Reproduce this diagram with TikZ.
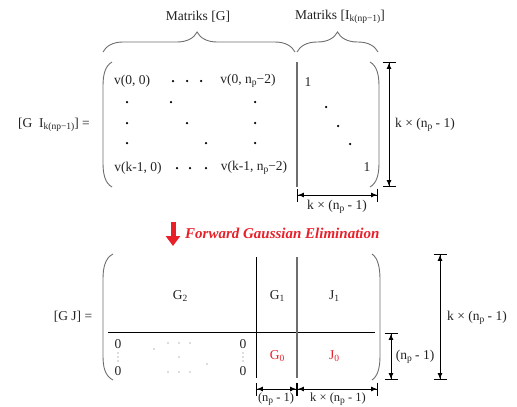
\documentclass[tikz,border=0pt]{standalone}
\usepackage{fontspec}
\setmainfont{Liberation Serif}
\usetikzlibrary{arrows.meta,decorations.pathreplacing}
\newcommand\sbs[1]{\raisebox{-2.5pt}{\fontsize{9.5}{10}\selectfont #1}}
\definecolor{txt}{HTML}{222222}
\definecolor{pgray}{HTML}{6E6E6E}
\definecolor{fred}{HTML}{E8202A}
\begin{document}
\begin{tikzpicture}[x=1pt,y=-1pt,
  every node/.style={inner sep=0pt,text=txt,font=\fontsize{13.5}{15}\selectfont},
  paren/.style={draw=pgray,line width=0.9pt},
  gline/.style={draw=pgray,line width=1.1pt},
  bline/.style={draw=black,line width=1pt},
  dimline/.style={draw=black,line width=0.9pt,
    {Bar[width=13pt,sep=0pt]Latex[length=6pt,width=5pt]}-{Latex[length=6pt,width=5pt]Bar[width=13pt,sep=0pt]}},
  bracedec/.style={draw=pgray,line width=0.9pt,decorate,decoration={brace,amplitude=20pt,aspect=#1}},
  bigdot/.style={fill=black},
  smalldot/.style={fill=pgray},
  redtxt/.style={text=fred,font=\fontsize{15}{17}\selectfont\bfseries\itshape},
  redent/.style={text=fred}]
\useasboundingbox (0,0) rectangle (517,407);

% ---- top braces and titles
\coordinate (b1a) at (103,52);
\coordinate (b1b) at (295,52);
\coordinate (b2a) at (297,52);
\coordinate (b2b) at (378,52);
\draw[bracedec=0.49] (b1a) -- (b1b);
\draw[bracedec=0.5] (b2a) -- (b2b);
\node (tG) at (198,17) {Matriks [G]};
\node (tI) at (340,17) {Matriks [I\sbs{k(np−1)}]};

% ---- top matrix
\node (lhs1) at (54,125) {[G\ \ I\sbs{k(np−1)}] =};
\draw[paren] (112,62) .. controls (105,66) and (103,75) .. (103,86) -- (103,163) .. controls (103,174) and (105,183) .. (112,187);
\draw[paren] (370,62) .. controls (377,66) and (379,75) .. (379,86) -- (379,163) .. controls (379,174) and (377,183) .. (370,187);
\coordinate (v1t) at (297,62);
\coordinate (v1b) at (297,187);
\draw[gline] (v1t) -- (v1b);

\node (a11) at (132,81) {v(0, 0)};
\node (a1n) at (248,81) {v(0, n\sbs{p}−2)};
\node (ak1) at (138,168) {v(k-1, 0)};
\node (akn) at (254,168) {v(k-1, n\sbs{p}−2)};
\foreach \x/\y in {173/81,187/81,201/81, 127/102,171/102,255/102, 127/123,187/123,255/123, 127/143,206/143,255/143, 177/168,190/168,206/168, 326/107,338/126,350/144}
  \fill[bigdot] (\x,\y) circle (1.25pt);
\node (i11) at (308,82) {1};
\node (inn) at (367,167) {1};

% dimensions of top matrix
\coordinate (d1a) at (389,62);
\coordinate (d1b) at (389,187);
\draw[dimline] (d1a) -- (d1b);
\node (l1) at (425,125) {k × (n\sbs{p} - 1)};
\coordinate (d2a) at (297,195);
\coordinate (d2b) at (378,195);
\draw[dimline] (d2a) -- (d2b);
\node (l2) at (337,207) {k × (n\sbs{p} - 1)};

% ---- red arrow and caption
\coordinate (ra) at (173,222);
\coordinate (rb) at (173,246);
\draw[draw=fred,line width=5pt,-{Triangle[width=14pt,length=10pt]},fill=fred] (ra) -- (rb);
\node[redtxt,anchor=west] (fge) at (185,233) {Forward Gaussian Elimination};

% ---- bottom matrix
\node (lhs2) at (73,317) {[G J] =};
\draw[paren] (113,254) .. controls (105,258) and (103,268) .. (103,279) -- (103,356) .. controls (103,367) and (105,376) .. (113,380);
\draw[paren] (372,254) .. controls (378,258) and (380,268) .. (380,279) -- (380,356) .. controls (380,367) and (378,376) .. (372,380);
\coordinate (ha) at (108,332);
\coordinate (hb) at (375,332);
\draw[bline] (ha) -- (hb);
\coordinate (v2t) at (256,257);
\coordinate (v2b) at (256,378);
\draw[bline] (v2t) -- (v2b);
\coordinate (v3t) at (297,257);
\coordinate (v3b) at (297,378);
\draw[gline] (v3t) -- (v3b);

\node (G2) at (180,296) {G\sbs{2}};
\node (G1) at (277,296) {G\sbs{1}};
\node (J1) at (334,296) {J\sbs{1}};
\node[redent] (G0) at (277,356) {G\sbs{0}};
\node[redent] (J0) at (334,356) {J\sbs{0}};
\node (z1) at (118,344) {0};
\node (z2) at (118,371) {0};
\node (z3) at (243,344) {0};
\node (z4) at (243,371) {0};
\foreach \x/\y in {118/353,118/357,118/361, 243/353,243/357,243/361,
  168/343,179/343,190/343, 168/372,179/372,190/372, 154/349,179/357,207/364}
  \fill[smalldot] (\x,\y) circle (0.6pt);

% dimensions of bottom matrix
\coordinate (d3a) at (440,254);
\coordinate (d3b) at (440,380);
\draw[dimline] (d3a) -- (d3b);
\node (l3) at (477,318) {k × (n\sbs{p} - 1)};
\coordinate (d4a) at (391,333);
\coordinate (d4b) at (391,380);
\draw[dimline] (d4a) -- (d4b);
\node (l4) at (415,357) {(n\sbs{p} - 1)};
\coordinate (d5a) at (256,389);
\coordinate (d5b) at (297,389);
\coordinate (d6b) at (378,389);
\draw[dimline] (d5a) -- (d5b);
\draw[dimline] (d5b) -- (d6b);
\node[font=\fontsize{12.5}{14}\selectfont] (l5) at (276,399) {(n\sbs{p} - 1)};
\node[font=\fontsize{12.5}{14}\selectfont] (l6) at (338,399) {k × (n\sbs{p} - 1)};
\end{tikzpicture}
\end{document}
